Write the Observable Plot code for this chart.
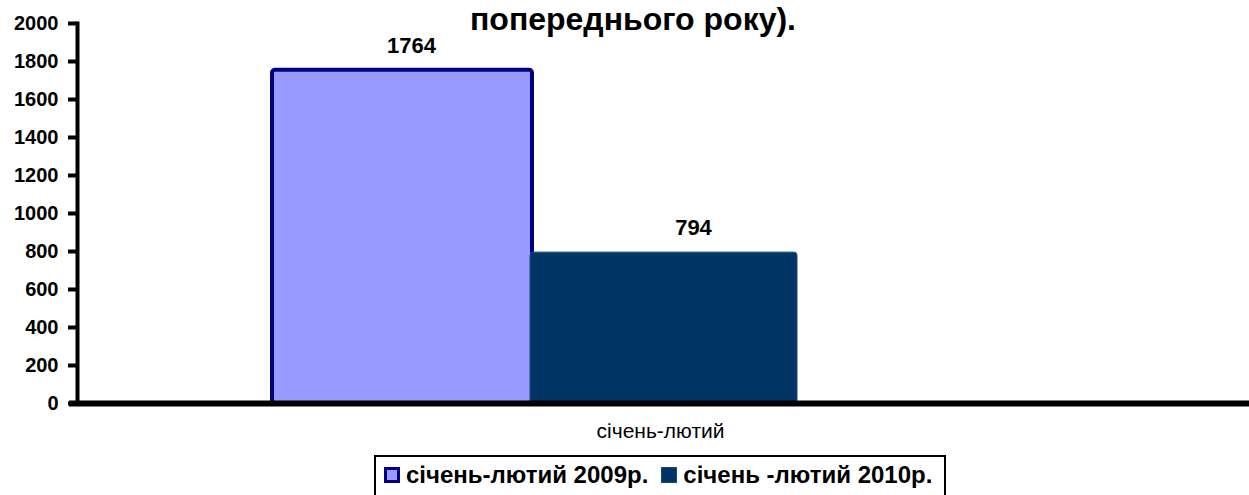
<!DOCTYPE html>
<html>
<head>
<meta charset="utf-8">
<script src="https://cdn.jsdelivr.net/npm/d3@7"></script>
<script src="https://cdn.jsdelivr.net/npm/@observablehq/plot@0.6"></script>
<style>
  html, body { margin: 0; padding: 0; background: #fff; }
  body { width: 1249px; height: 495px; overflow: hidden; position: relative; font-family: "Liberation Sans", Arial, sans-serif; }
  #title { position: absolute; left: 0; width: 1266px; top: 3px; text-align: center; font-weight: bold; font-size: 32px; line-height: 32px; color: #000; white-space: nowrap; }
  #chart { position: absolute; left: 0; top: 0; }
  #legend { position: absolute; left: 374px; top: 455px; width: 572px; height: 60px; border: 2px solid #000; box-sizing: border-box; font-weight: bold; font-size: 24px; display: flex; align-items: flex-start; padding-top: 4px; padding-left: 8px; }
  .item { display: flex; align-items: center; margin-right: 13px; white-space: nowrap; }
  .sw { width: 16px; height: 16px; box-sizing: border-box; margin-right: 6px; }
</style>
</head>
<body>
<div id="chart"></div>
<div id="title">попереднього року).</div>
<div id="legend"></div>
<script>
const category = "січень-лютий";
const series = ["січень-лютий 2009р.", "січень -лютий 2010р."];
const values = [1764, 794];
const yTicks = [0, 200, 400, 600, 800, 1000, 1200, 1400, 1600, 1800, 2000];
const fills = ["#9999FF", "#003366"];
const strokes = ["#000080", "#003366"];

const data = series.map((s, i) => ({series: s, value: values[i], category}));

const chart = Plot.plot({
  width: 1249,
  height: 455,
  marginLeft: 77,
  marginRight: 0,
  marginTop: 23,
  marginBottom: 52,
  style: {fontFamily: "'Liberation Sans', Arial, sans-serif", background: "transparent", overflow: "visible"},
  x: {domain: series, range: [270, 798], padding: 0, axis: null},
  y: {domain: [0, 2000], axis: null, label: null},
  marks: [
    Plot.barY(data.filter((d, i) => i === 0), {x: "series", y: "value", fill: fills[0], stroke: strokes[0], strokeWidth: 4, insetLeft: 2, insetRight: 2, insetTop: 2, rx: 3}),
    Plot.barY(data.filter((d, i) => i === 1), {x: "series", y: "value", fill: fills[1], stroke: "#1a4a7a", strokeWidth: 1, insetLeft: -4, insetRight: 1, rx: 3}),
    Plot.axisY({ticks: yTicks, tickSize: 9, tickPadding: 10, strokeWidth: 4, fontSize: 20, fontWeight: "bold", fill: "#000", label: null, tickFormat: d => String(d)}),
    Plot.frame({anchor: "left", strokeWidth: 4, stroke: "#000"}),
    Plot.ruleY([0], {strokeWidth: 6, stroke: "#000", insetLeft: -8}),
    Plot.text(data.filter((d, i) => i === 0), {x: "series", y: "value", text: d => String(d.value), dy: -22, dx: 9, fontSize: 22, fontWeight: "bold", fill: "#000"}),
    Plot.text(data.filter((d, i) => i === 1), {x: "series", y: "value", text: d => String(d.value), dy: -25, dx: 27, fontSize: 22, fontWeight: "bold", fill: "#000"}),
    Plot.text([category], {frameAnchor: "bottom", text: d => d, dy: 34, dx: -3, fontSize: 21, fill: "#000"})
  ]
});
document.getElementById("chart").appendChild(chart);

const legend = document.getElementById("legend");
series.forEach((s, i) => {
  const item = document.createElement("div");
  item.className = "item";
  const sw = document.createElement("div");
  sw.className = "sw";
  sw.style.background = fills[i];
  sw.style.border = i === 0 ? "3px solid " + strokes[0] : "1px solid #1a4a7a";
  const label = document.createElement("span");
  label.textContent = s;
  item.appendChild(sw);
  item.appendChild(label);
  legend.appendChild(item);
});
</script>
</body>
</html>
